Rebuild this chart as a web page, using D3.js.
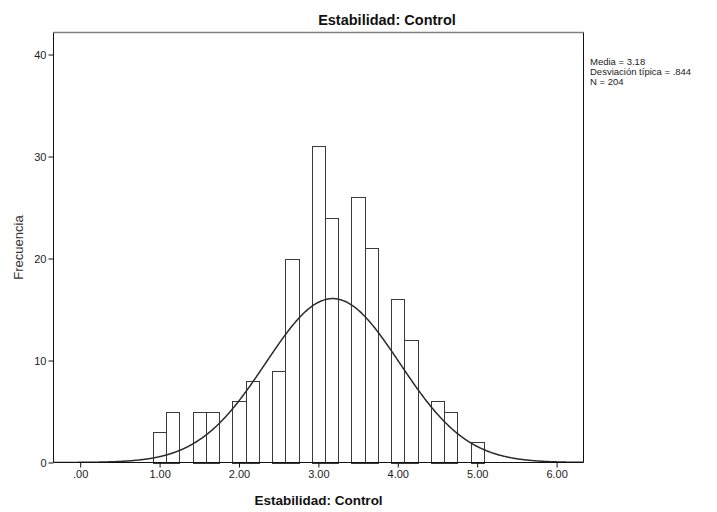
<!DOCTYPE html>
<html>
<head>
<meta charset="utf-8">
<script src="https://cdn.jsdelivr.net/npm/d3@7/dist/d3.min.js"></script>
<style>
  html, body { margin: 0; padding: 0; background: #fff; }
  svg { display: block; font-family: "Liberation Sans", Arial, sans-serif; }
</style>
</head>
<body>
<svg id="chart" width="717" height="512"></svg>
<script>
// ---- Data ----
const binCenters = [1.000, 1.167, 1.500, 1.667, 2.000, 2.167, 2.500, 2.667, 3.000, 3.167, 3.500, 3.667, 4.000, 4.167, 4.500, 4.667, 5.000];
const binCounts  = [3, 5, 5, 5, 6, 8, 9, 20, 31, 24, 26, 21, 16, 12, 6, 5, 2];
const binWidth = 1 / 6;
const stats = { mean: 3.18, sd: 0.844, n: 204 };
const xTickValues = [0, 1, 2, 3, 4, 5, 6];
const xTickLabels = [".00", "1.00", "2.00", "3.00", "4.00", "5.00", "6.00"];
const yTickValues = [0, 10, 20, 30, 40];
const legendLines = ["Media = 3.18", "Desviación típica = .844", "N = 204"];
const titleText = "Estabilidad: Control";
const xAxisTitle = "Estabilidad: Control";
const yAxisTitle = "Frecuencia";

// ---- Layout ----
const plot = { left: 53.5, right: 583.5, top: 32.5, bottom: 462.5 };
const svg = d3.select("#chart");

const x = d3.scaleLinear().domain([-0.336, 6.339]).range([plot.left, plot.right]);
const y = d3.scaleLinear().domain([0, 42.16]).range([plot.bottom, plot.top]);

// clip
svg.append("defs").append("clipPath").attr("id", "clip")
  .append("rect").attr("x", plot.left).attr("y", plot.top)
  .attr("width", plot.right - plot.left).attr("height", plot.bottom - plot.top);

// bars
const snap = v => Math.round(v) + 0.5;
svg.append("g").selectAll("rect").data(binCenters.map((c, i) => ({ c, n: binCounts[i] })))
  .join("rect")
  .attr("x", d => snap(x(d.c - binWidth / 2)))
  .attr("width", d => snap(x(d.c + binWidth / 2)) - snap(x(d.c - binWidth / 2)))
  .attr("y", d => snap(y(d.n)))
  .attr("height", d => snap(y(0)) - snap(y(d.n)))
  .attr("fill", "#fff")
  .attr("stroke", "#3a3a3a")
  .attr("stroke-width", 1);

// normal curve
const pdf = v => Math.exp(-0.5 * Math.pow((v - stats.mean) / stats.sd, 2)) / (stats.sd * Math.sqrt(2 * Math.PI));
const curvePts = d3.range(-0.336, 6.34, 0.01).map(v => [v, stats.n * binWidth * pdf(v)]);
svg.append("path")
  .attr("clip-path", "url(#clip)")
  .attr("d", d3.line().x(d => x(d[0])).y(d => y(d[1])).curve(d3.curveBasis)(curvePts))
  .attr("fill", "none")
  .attr("stroke", "#2a2a2a")
  .attr("stroke-width", 1.5);

// frame
svg.append("line").attr("x1", plot.left).attr("x2", plot.right).attr("y1", plot.top).attr("y2", plot.top)
  .attr("stroke", "#808080").attr("stroke-width", 1.5);
svg.append("line").attr("x1", plot.right).attr("x2", plot.right).attr("y1", plot.top).attr("y2", plot.bottom)
  .attr("stroke", "#111").attr("stroke-width", 1);
svg.append("line").attr("x1", plot.left).attr("x2", plot.left).attr("y1", plot.top).attr("y2", plot.bottom)
  .attr("stroke", "#111").attr("stroke-width", 1);
svg.append("line").attr("x1", plot.left).attr("x2", plot.right).attr("y1", plot.bottom).attr("y2", plot.bottom)
  .attr("stroke", "#111").attr("stroke-width", 1.2);

// axes
const xAxis = d3.axisBottom(x).tickValues(xTickValues)
  .tickFormat((d, i) => xTickLabels[i]).tickSize(5).tickPadding(3);
const gx = svg.append("g").attr("transform", `translate(0,${plot.bottom})`).call(xAxis);
gx.select(".domain").remove();
gx.selectAll(".tick line").attr("stroke", "#111");
gx.selectAll(".tick text").attr("fill", "#222").style("font-size", "11px")
  .style("font-family", "'Liberation Sans', Arial, sans-serif");

const yAxis = d3.axisLeft(y).tickValues(yTickValues).tickSize(5).tickPadding(2);
const gy = svg.append("g").attr("transform", `translate(${plot.left},0)`).call(yAxis);
gy.select(".domain").remove();
gy.selectAll(".tick line").attr("stroke", "#111");
gy.selectAll(".tick text").attr("fill", "#222").style("font-size", "11px")
  .style("font-family", "'Liberation Sans', Arial, sans-serif");

// titles
svg.append("text").attr("x", 387).attr("y", 25).attr("text-anchor", "middle")
  .style("font-size", "14.5px").style("font-weight", "bold").attr("fill", "#111").text(titleText);
svg.append("text").attr("x", (plot.left + plot.right) / 2).attr("y", 505).attr("text-anchor", "middle")
  .style("font-size", "13.5px").style("font-weight", "bold").attr("fill", "#111").text(xAxisTitle);
svg.append("text").attr("transform", `translate(23,${(plot.top + plot.bottom) / 2 - 0}) rotate(-90)`)
  .attr("text-anchor", "middle").style("font-size", "13px").attr("fill", "#333").text(yAxisTitle);

// legend
svg.append("g").selectAll("text").data(legendLines).join("text")
  .attr("x", 590).attr("y", (d, i) => 65 + i * 10)
  .style("font-size", "9.5px").attr("fill", "#222").text(d => d);
</script>
</body>
</html>
